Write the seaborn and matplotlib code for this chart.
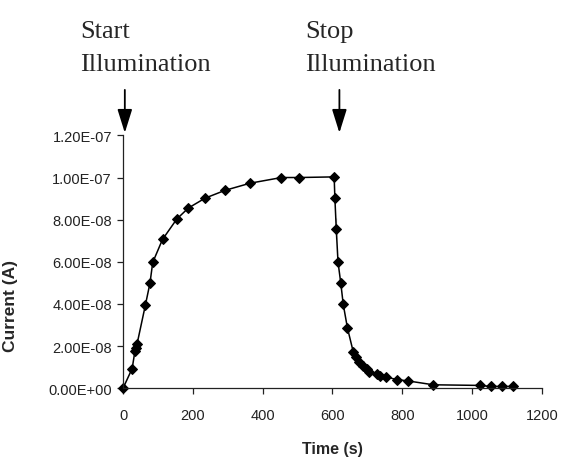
import pandas as pd
import seaborn as sns
import matplotlib.pyplot as plt

# Photocurrent data
time_s = [0, 26, 34, 37, 40, 64, 77, 85, 113, 154, 187, 235, 292, 364, 454, 505, 605,
          607, 611, 611, 616, 624, 631, 643, 660, 667, 677, 687, 698, 706, 727, 736,
          754, 784, 818, 889, 1023, 1054, 1087, 1117]
current_e8 = [0, 0.93, 1.76, 1.89, 2.09, 3.95, 4.98, 5.97, 7.06, 8.03, 8.55, 9.02, 9.39,
              9.73, 10.0, 10.0, 10.03, 9.04, 8.07, 7.06, 5.99, 4.98, 3.98, 2.86, 1.70,
              1.49, 1.25, 1.06, 0.90, 0.77, 0.69, 0.58, 0.53, 0.41, 0.34, 0.16, 0.13,
              0.08, 0.08, 0.08]

x_ticks = [0, 200, 400, 600, 800, 1000, 1200]
y_ticks = [0, 2e-8, 4e-8, 6e-8, 8e-8, 1e-7, 1.2e-7]
y_tick_labels = ["0.00E+00", "2.00E-08", "4.00E-08", "6.00E-08", "8.00E-08",
                 "1.00E-07", "1.20E-07"]

df = pd.DataFrame({"time": time_s, "current": [v * 1e-8 for v in current_e8]})

sns.set_style("ticks")
plt.rcParams['font.family'] = ['Liberation Sans', 'DejaVu Sans']

fig = plt.figure(figsize=(5.62, 4.6), dpi=100)
ax = fig.add_axes([0.219, 0.154, 0.745, 0.5495])

sns.lineplot(data=df, x="time", y="current", ax=ax, color="black", lw=1.1,
             marker="D", markersize=5.3, markeredgecolor="black", sort=False,
             clip_on=False)

ax.set_xlim(0, 1200)
ax.set_ylim(0, 1.2e-7)
ax.set_xticks(x_ticks)
ax.set_yticks(y_ticks)
ax.set_yticklabels(y_tick_labels)
ax.tick_params(axis="both", labelsize=10.5, colors="#222222", length=4, width=0.9)
ax.tick_params(axis="x", pad=10)
ax.tick_params(axis="y", pad=4)
sns.despine(ax=ax)
for s in ["left", "bottom"]:
    ax.spines[s].set_linewidth(0.9)
    ax.spines[s].set_color("#222222")

ax.set_xlabel("Time (s)", fontsize=11.5, fontweight="bold", labelpad=14)
ax.set_ylabel("Current (A)", fontsize=12.5, fontweight="bold")
ax.yaxis.set_label_coords(-0.252, 0.33)

# Annotations above the axes
serif = ['Liberation Serif', 'DejaVu Serif']
fig.text(0.142, 0.955, "Start\nIllumination", family=serif, fontsize=19,
         va="top", ha="left", linespacing=1.65)
fig.text(0.543, 0.955, "Stop\nIllumination", family=serif, fontsize=19,
         va="top", ha="left", linespacing=1.65)

arrow = dict(arrowstyle="-|>,head_length=0.8,head_width=0.25", mutation_scale=18,
             lw=1.3, color="black", shrinkA=0, shrinkB=0)
for xpos in [5, 620]:
    ax.annotate("", xy=(xpos, 1.01), xytext=(xpos, 1.18),
                xycoords=("data", "axes fraction"), textcoords=("data", "axes fraction"),
                arrowprops=arrow, annotation_clip=False)

plt.savefig("out.png", dpi=100)
